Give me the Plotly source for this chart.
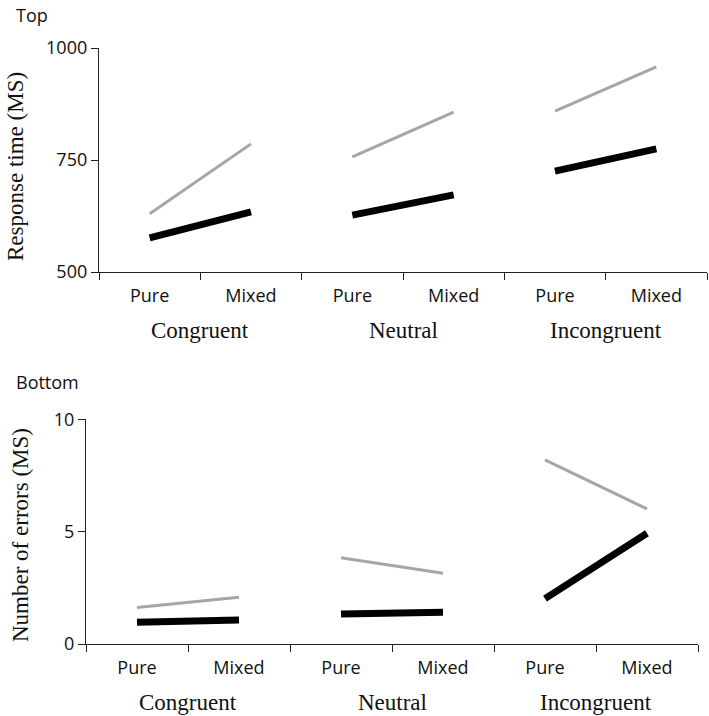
import plotly.graph_objects as go

groups = ["Congruent", "Neutral", "Incongruent"]
conditions = ["Pure", "Mixed"]

rt_black = [576, 634, 627, 672, 725, 775]
rt_gray = [630, 786, 757, 857, 859, 958]
err_black = [0.97, 1.07, 1.34, 1.41, 2.02, 4.93]
err_gray = [1.62, 2.08, 3.84, 3.15, 8.19, 6.01]

rt_ticks = [500, 750, 1000]
err_ticks = [0, 5, 10]

GRAY = "#a6a6a6"
BLACK = "#000000"
W, H = 709, 716


def seg(values):
    xs, ys = [], []
    for g in range(len(groups)):
        for c in range(len(conditions)):
            xs.append(g * 2 + c + 0.5)
            ys.append(values[g * 2 + c])
        xs.append(None)
        ys.append(None)
    return xs, ys


fig = go.Figure()
for vals, col, wdt, xa, ya in [
    (rt_gray, GRAY, 3, "x", "y"),
    (rt_black, BLACK, 7, "x", "y"),
    (err_gray, GRAY, 3, "x2", "y2"),
    (err_black, BLACK, 7, "x2", "y2"),
]:
    xs, ys = seg(vals)
    fig.add_trace(go.Scatter(x=xs, y=ys, mode="lines", xaxis=xa, yaxis=ya,
                             line=dict(color=col, width=wdt), showlegend=False,
                             connectgaps=False))

tick_font = dict(family="Open Sans", size=18, color="#111")
centers = [i + 0.5 for i in range(6)]
labels = conditions * len(groups)

xcommon = dict(range=[0, 6], tickmode="array", tickvals=centers, ticktext=labels,
               ticks="", showgrid=False, zeroline=False, showline=True, automargin=False,
               linecolor="#222", linewidth=1.3, tickfont=tick_font, ticklabelstandoff=7,
               minor=dict(tickmode="array", tickvals=list(range(7)), ticks="outside",
                          ticklen=7, tickcolor="#222", tickwidth=1.3, showgrid=False))
ycommon = dict(tickmode="array", ticks="outside", ticklen=7, tickcolor="#222",
               tickwidth=1.3, showgrid=False, zeroline=False, showline=True, automargin=False,
               linecolor="#222", linewidth=1.3, tickfont=tick_font)

top_x = [99 / W, 707 / W]
top_y = [1 - 272 / H, 1 - 48 / H]
bot_x = [86 / W, 698 / W]
bot_y = [1 - 644 / H, 1 - 419.3 / H]

fig.update_layout(
    width=W, height=H, margin=dict(l=0, r=0, t=0, b=0, pad=0), autosize=False,
    paper_bgcolor="white", plot_bgcolor="white",
    xaxis=dict(domain=top_x, anchor="y", **xcommon),
    yaxis=dict(domain=top_y, anchor="x", range=[500, 1000], tickvals=rt_ticks, **ycommon),
    xaxis2=dict(domain=bot_x, anchor="y2", **xcommon),
    yaxis2=dict(domain=bot_y, anchor="x2", range=[0, 10], tickvals=err_ticks, **ycommon),
)

serif = dict(family="Liberation Serif", size=23, color="#111")
ann = []
# group labels
for (dom, ypix) in [(top_x, 330), (bot_x, 702)]:
    for g, name in enumerate(groups):
        xc = dom[0] + (dom[1] - dom[0]) * (g * 2 + 1) / 6
        ann.append(dict(text=name, x=xc, y=1 - ypix / H, xref="paper", yref="paper",
                        showarrow=False, font=serif, xanchor="center", yanchor="middle"))
ann.append(dict(text="Response time (MS)", x=16 / W, y=1 - 167 / H, xref="paper", yref="paper",
                showarrow=False, textangle=-90, font=serif, xanchor="center", yanchor="middle"))
ann.append(dict(text="Number of errors (MS)", x=20 / W, y=1 - 535 / H, xref="paper", yref="paper",
                showarrow=False, textangle=-90, font=serif, xanchor="center", yanchor="middle"))
ann.append(dict(text="Top", x=14 / W, y=1 - 15 / H, xref="paper", yref="paper",
                showarrow=False, font=tick_font, xanchor="left", yanchor="middle"))
ann.append(dict(text="Bottom", x=14 / W, y=1 - 382 / H, xref="paper", yref="paper",
                showarrow=False, font=tick_font, xanchor="left", yanchor="middle"))
fig.update_layout(annotations=ann)

fig.write_html("out.html", config={"displayModeBar": False},
               post_script="document.body.style.margin='0';document.body.style.overflow='hidden';")
